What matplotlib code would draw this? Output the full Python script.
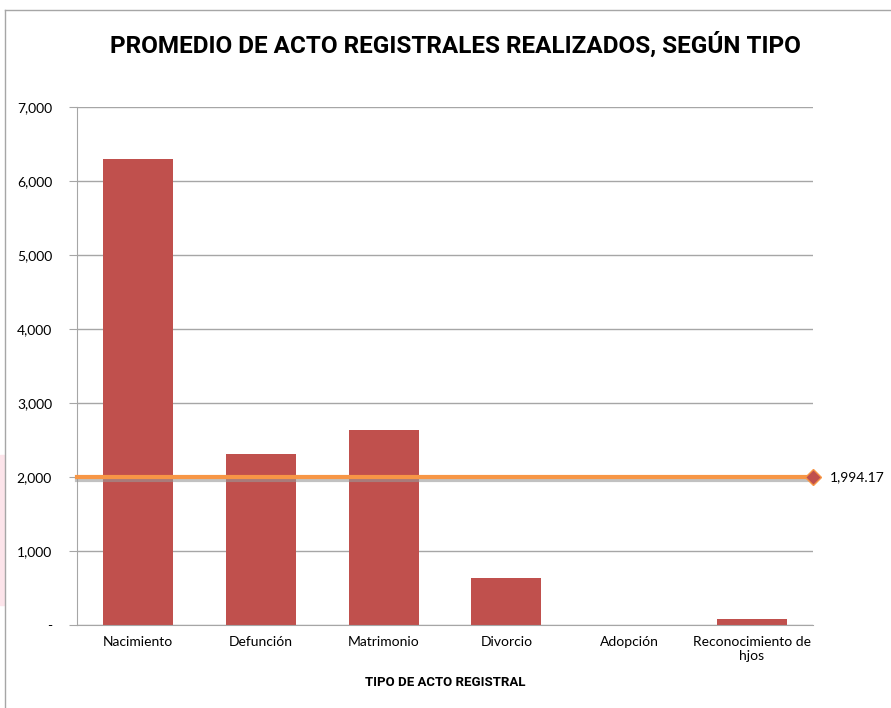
import numpy as np
import matplotlib.pyplot as plt
from matplotlib.patches import Rectangle
import matplotlib.patheffects as pe

categorias = ["Nacimiento", "Defunción", "Matrimonio", "Divorcio", "Adopción",
              "Reconocimiento de\nhjos"]
valores = [6300, 2305, 2640, 635, 5, 80]
promedio = 1994.17
yticks = [0, 1000, 2000, 3000, 4000, 5000, 6000, 7000]
ytick_labels = ["-", "1,000", "2,000", "3,000", "4,000", "5,000", "6,000", "7,000"]

plt.rcParams["font.family"] = ["Lato", "DejaVu Sans"]

fig = plt.figure(figsize=(8.91, 7.08), dpi=100)
ax = fig.add_axes([77 / 891, 1 - 625 / 708, (813 - 77) / 891, (625 - 107) / 708])

x = np.arange(len(categorias))
ax.bar(x, valores, width=0.57, color="#C0504D", zorder=2)

ax.set_xlim(-0.5, len(categorias) - 0.5)
ax.set_ylim(0, 7000)
ax.set_yticks(yticks)
ax.set_yticklabels(ytick_labels, fontsize=10)
ax.set_xticks(x)
ax.set_xticklabels(categorias, fontsize=10)
ax.tick_params(axis="x", length=0, pad=8)
ax.tick_params(axis="y", length=6, color="#A6A6A6", pad=12)
ax.yaxis.grid(True, color="#A6A6A6", linewidth=1, zorder=0)
for s in ["top", "right"]:
    ax.spines[s].set_visible(False)
for s in ["left", "bottom"]:
    ax.spines[s].set_color("#A6A6A6")

# linea del promedio
ax.plot([-0.5, len(categorias) - 0.5], [promedio, promedio], color="#F79646",
        linewidth=3, zorder=3, clip_on=False,
        path_effects=[pe.SimpleLineShadow(offset=(0, -2), shadow_color="#999999", alpha=0.6),
                      pe.Normal()])
ax.plot([len(categorias) - 0.5], [promedio], marker="D", markersize=8,
        color="#C0504D", markeredgecolor="#F79646", zorder=4, clip_on=False)
ax.annotate(f"{promedio:,.2f}", xy=(len(categorias) - 0.5, promedio),
            xytext=(12, 0), textcoords="offset points", va="center", fontsize=10)

ax.set_xlabel("TIPO DE ACTO REGISTRAL", fontsize=9.5, fontweight="bold", labelpad=10,
              family=["Roboto", "DejaVu Sans"])
fig.text(455 / 891, 1 - 45 / 708, "PROMEDIO DE ACTO REGISTRALES REALIZADOS, SEGÚN TIPO",
         ha="center", va="center", fontsize=17.5, fontweight="bold",
         family=["Roboto", "DejaVu Sans"])

# marco del grafico
fig.add_artist(plt.Line2D([5 / 891, 5 / 891], [0, 1 - 10 / 708], color="#A6A6A6",
                          linewidth=1, transform=fig.transFigure))
fig.add_artist(plt.Line2D([5 / 891, 1], [1 - 10 / 708, 1 - 10 / 708], color="#A6A6A6",
                          linewidth=1, transform=fig.transFigure))
fig.add_artist(Rectangle((0, 1 - 605 / 708), 4 / 891, 150 / 708, color="#FCE4EA",
                         transform=fig.transFigure))

fig.savefig("out.png", dpi=100)
